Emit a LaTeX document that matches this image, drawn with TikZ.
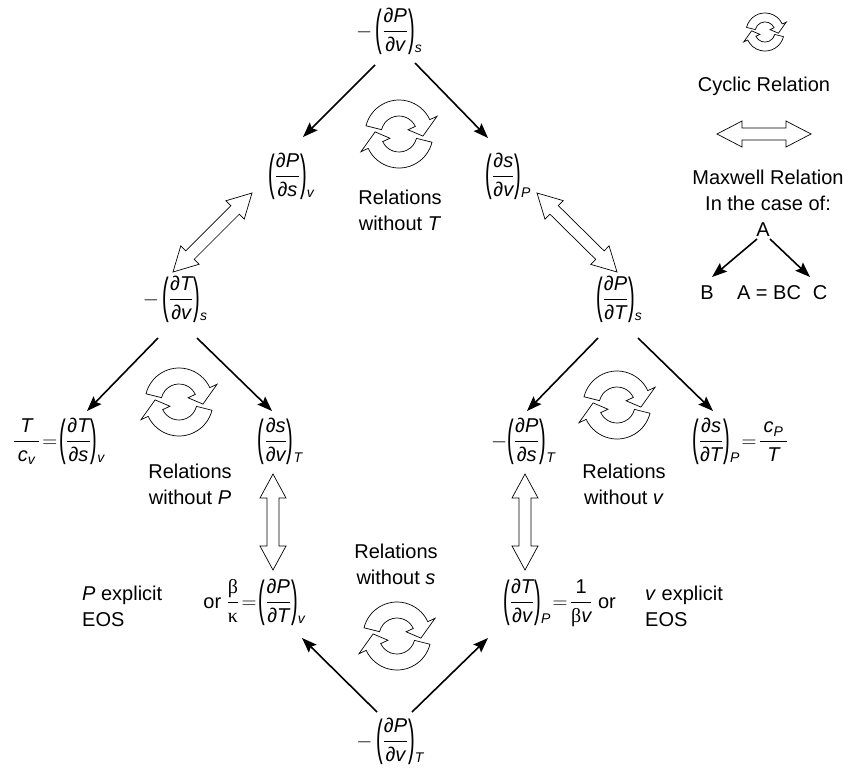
\documentclass[tikz,border=0pt]{standalone}
\usepackage{amsmath}
\usepackage{graphicx}
\usepackage{fontspec}
\setmainfont{Liberation Sans}
\newfontfamily\grkfont{Liberation Serif}
\usetikzlibrary{arrows.meta,calc}

\newcommand\iv[1]{\text{\itshape #1}}
\newcommand\pdel{\text{\upshape ∂}}
\newcommand\lpar{\mathopen{\vcenter{\hbox{\scalebox{1}[2.45]{(}}}}}
\newcommand\rpar{\mathclose{\vcenter{\hbox{\scalebox{1}[2.45]{)}}}}}
\newcommand\subx[1]{\text{\raisebox{-15pt}{\fontsize{14}{16}\selectfont\itshape #1}}}
\newcommand\pdr[3]{\lpar\dfrac{\pdel\iv{#1}}{\pdel\iv{#2}}\rpar\subx{#3}}
\newcommand\grk[1]{\text{\grkfont\upshape #1}}
\newcommand\eqs{\mkern2mu{=}\mkern2mu}
% hollow double arrow: tips #1,#2; head length #3, head half width #4, shaft half width #5
\newcommand\maxw[5]{%
 \draw[mxsty] (#1) -- ($(#1)!#3!(#2)!#4!90:(#2)$) -- ($(#1)!#3!(#2)!#5!90:(#2)$)
  -- ($(#2)!#3!(#1)!#5!-90:(#1)$) -- ($(#2)!#3!(#1)!#4!-90:(#1)$) -- (#2)
  -- ($(#2)!#3!(#1)!#4!90:(#1)$) -- ($(#2)!#3!(#1)!#5!90:(#1)$)
  -- ($(#1)!#3!(#2)!#5!-90:(#2)$) -- ($(#1)!#3!(#2)!#4!-90:(#2)$) -- cycle;}

\tikzset{
 cycsty/.style={draw=black, fill=white, line width=0.7pt, line join=miter},
 mxsty/.style={draw=black, fill=white, line width=0.7pt, line join=miter},
 blk/.style={line width=1.6pt, -{Stealth[length=15pt,width=11pt,inset=2.5pt]}},
 cyclic/.pic={
  \begin{scope}[x=1pt,y=1pt]
   \path[cycsty] (166:34) arc[start angle=166,end angle=25,radius=34] -- (25:42) -- (-5:24)
     -- (25:10) -- (25:18) arc[start angle=25,end angle=166,radius=18] -- cycle;
   \path[cycsty] (-14:34) arc[start angle=-14,end angle=-155,radius=34] -- (-155:42) -- (-185:24)
     -- (-155:10) -- (-155:18) arc[start angle=-155,end angle=-14,radius=18] -- cycle;
  \end{scope}}
}

\begin{document}
\begin{tikzpicture}[x=1pt,y=-1pt,
  every node/.style={font=\fontsize{20}{26}\selectfont, inner sep=0pt},
  fm/.style={anchor=base},
  tx/.style={align=center}]
\useasboundingbox (0,0) rectangle (850,769);

% formula nodes
\node[fm] (top) at (389,37) {$-\,\pdr{P}{v}{s}$};
\node[fm] (Psv) at (291,182) {$\pdr{P}{s}{v}$};
\node[fm] (svP) at (508,182) {$\pdr{s}{v}{P}$};
\node[fm] (Tvs) at (175,305) {$-\,\pdr{T}{v}{s}$};
\node[fm] (PTs) at (619,305) {$\pdr{P}{T}{s}$};
\node[fm,anchor=base west] (Tcv) at (13,447) {$\dfrac{\iv{T}}{\mkern3mu\iv{c}_{\iv{v}}\mkern3mu}\eqs\pdr{T}{s}{v}$};
\node[fm] (svT) at (280,447) {$\pdr{s}{v}{T}$};
\node[fm] (PsT) at (523,447) {$-\pdr{P}{s}{T}$};
\node[fm,anchor=base west] (sTP) at (692,447) {$\pdr{s}{T}{P}\eqs\dfrac{\mkern3mu\iv{c}_{\iv{P}}\mkern3mu}{\iv{T}}$};
\node[fm,anchor=base east] (PTv) at (305,608) {or $\dfrac{\grk{β}}{\grk{κ}}\eqs\pdr{P}{T}{v}$};
\node[fm,anchor=base west] (TvP) at (503,608) {$\pdr{T}{v}{P}\eqs\dfrac{\text{1}}{\grk{β}\iv{v}}$ or};
\node[anchor=west,align=left] (Pexp) at (82,606) {\textit{P} explicit\\EOS};
\node[anchor=west,align=left] (vexp) at (645,606) {\textit{v} explicit\\EOS};
\node[fm] (bot) at (390,747) {$-\,\pdr{P}{v}{T}$};

% relation labels
\node[tx] (rT) at (400,210) {Relations\\without \textit{T}};
\node[tx] (rP) at (190,484) {Relations\\without \textit{P}};
\node[tx] (rv) at (624,484) {Relations\\without \textit{v}};
\node[tx] (rs) at (396,564) {Relations\\without \textit{s}};

% cyclic icons
\pic at (399,134) {cyclic};
\pic at (179,402) {cyclic};
\pic at (617,405) {cyclic};
\pic at (397,636) {cyclic};

% black arrows
\draw[blk] ([shift={(-14,28)}]top.base) -- ([shift={(12,-45)}]Psv.base);
\draw[blk] ([shift={(26,26)}]top.base) -- ([shift={(-20,-44)}]svP.base);
\draw[blk] ([shift={(-17,33)}]Tvs.base) -- ([shift={(74,-36)}]Tcv.base west);
\draw[blk] ([shift={(22,33)}]Tvs.base) -- ([shift={(-8,-36)}]svT.base);
\draw[blk] ([shift={(-21,33)}]PTs.base) -- ([shift={(4,-36)}]PsT.base);
\draw[blk] ([shift={(19,33)}]PTs.base) -- ([shift={(21,-36)}]sTP.base west);
\draw[blk] ([shift={(-13,-35)}]bot.base) -- ([shift={(-3,30)}]PTv.base east);
\draw[blk] ([shift={(22,-35)}]bot.base) -- ([shift={(-15,30)}]TvP.base west);

% Maxwell relations
\coordinate (m1a) at ([shift={(-39,11)}]Psv.base);
\coordinate (m1b) at ([shift={(-2,-33)}]Tvs.base);
\coordinate (m2a) at ([shift={(29,11)}]svP.base);
\coordinate (m2b) at ([shift={(-2,-33)}]PTs.base);
\coordinate (m3a) at ([shift={(-7,27)}]svT.base);
\coordinate (m3b) at ([shift={(-32,-38)}]PTv.base east);
\coordinate (m4a) at ([shift={(2,27)}]PsT.base);
\coordinate (m4b) at ([shift={(22,-38)}]TvP.base west);
\maxw{m1a}{m1b}{24pt}{13pt}{6pt}
\maxw{m2a}{m2b}{24pt}{13pt}{6pt}
\maxw{m3a}{m3b}{24pt}{13pt}{6pt}
\maxw{m4a}{m4b}{24pt}{13pt}{6pt}

% legend
\pic[scale=0.56] at (765,32) {cyclic};
\node (cyc) at (764,86) {Cyclic Relation};
\coordinate (la) at (717,134);
\coordinate (lb) at (811,134);
\maxw{la}{lb}{25pt}{13pt}{6pt}
\node[tx] (mxl) at (768,190) {Maxwell Relation\\In the case of:};
\node (A) at (763,230) {A};
\node (B) at (707,293) {B};
\node (eq) at (769,293) {A = BC};
\node (C) at (820,293) {C};
\draw[blk] ([shift={(-6,9)}]A.center) -- ([shift={(5,-16)}]B.center);
\draw[blk] ([shift={(7,9)}]A.center) -- ([shift={(-10,-16)}]C.center);
\end{tikzpicture}
\end{document}
